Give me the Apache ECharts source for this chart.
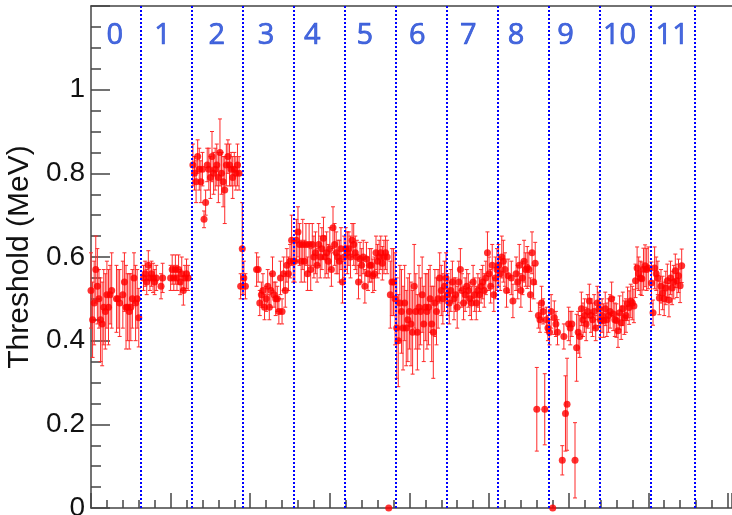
<!DOCTYPE html>
<html>
<head>
<meta charset="utf-8">
<title>Threshold per channel</title>
<script src="https://cdn.jsdelivr.net/npm/echarts@6/dist/echarts.min.js"></script>
<style>
  html, body { margin: 0; padding: 0; background: #fff; }
  #chart { width: 732px; height: 515px; }
</style>
</head>
<body>
<div id="chart"></div>
<script>
var channels = [
  0,1,2,3,4,5,6,7,8,9,10,11,12,13,16,17,18,20,21,22,23,24,25,26,27,28,29,30,
  33,34,35,36,37,38,39,40,41,44,45,50,51,52,53,54,55,56,57,58,59,60,61,
  64,65,66,67,68,69,70,71,72,73,74,75,76,77,78,79,80,81,82,83,84,85,86,87,88,89,90,91,92,93,
  94,95,96,97,
  104,105,106,107,108,109,110,111,112,113,114,115,116,117,118,119,120,121,122,123,124,125,126,127,
  128,129,130,131,132,133,134,135,136,137,138,139,140,141,142,143,144,145,146,147,148,149,150,151,152,153,154,155,156,157,158,159,
  160,161,162,163,164,165,166,167,168,169,170,171,172,173,174,175,176,177,178,179,180,181,182,183,184,185,186,187,188,189,
  190,191,192,193,194,195,196,197,198,199,200,201,202,203,204,205,206,207,208,209,210,211,212,213,214,215,216,217,218,219,220,221,222,223,
  224,225,226,227,228,229,230,231,232,233,234,235,236,237,238,239,240,241,242,243,244,245,246,247,248,249,250,251,252,253,254,255,
  256,257,258,259,260,261,262,264,265,267,268,269,270,271,272,273,274,275,276,277,278,279,280,281,282,283,284,285,286,287,
  288,289,290,291,292,293,296,297,298,299,300,301,302,304,305,306,307,308,309,310,311,312,313,314,315,316,317,318,
  319,320,321,322,323,324,325,326,327,328,329,330,331,332,333,334,335,336,337,338,339,340,341,342,343,344,345,346,347,348,349,350,
  352,353,354,355,356,357,358,359,360,361,362,363,364,365,366,367,368,369,370,371
];
var thresholds = [
  .52,.45,.49,.57,.53,.50,.45,.44,.48,.47,.51,.48,.51,.52,.50,.50,.49,.51,.54,.48,.48,.47,.48,.50,.55,.49,.50,.455,
  .55,.56,.54,.58,.55,.56,.55,.54,.55,.53,.55,.55,.57,.55,.57,.55,.57,.54,.56,.52,.55,.56,.55,
  .82,.80,.78,.84,.81,.78,.81,.69,.73,.82,.81,.79,.84,.80,.81,.82,.79,.85,.80,.78,.76,.82,.84,.82,.81,.79,.81,.80,.82,.80,
  .53,.62,.55,.53,
  .57,.57,.49,.51,.52,.48,.50,.53,.48,.52,.56,.51,.50,.50,.47,.55,.47,.56,.52,.58,.56,.59,.64,.59,
  .59,.64,.66,.63,.59,.63,.59,.63,.56,.63,.57,.63,.60,.61,.58,.63,.60,.62,.645,.60,.61,.59,.62,.57,.67,.63,.61,.60,.59,.62,.54,.60,
  .62,.61,.62,.60,.64,.63,.61,.60,.54,.595,.58,.60,.53,.595,.56,.58,.58,.555,.56,.61,.59,.60,.61,.585,.60,.61,.60,0,.51,.54,
  .54,.50,.43,.40,.49,.47,.43,.49,.43,.45,.47,.44,.42,.53,.47,.42,.48,.47,.51,.44,.48,.47,.48,.50,.44,.42,.49,.47,.50,.55,.52,.50,.53,.55,
  .51,.49,.52,.54,.50,.51,.48,.54,.57,.52,.49,.51,.53,.52,.50,.49,.54,.51,.49,.52,.51,.53,.54,.52,.55,.61,.56,.53,.58,.51,.55,.57,
  .58,.56,.60,.59,.57,.52,.555,.55,.495,.56,.54,.58,.52,.55,.59,.57,.575,.57,.51,.61,.54,.585,.236,.46,.45,.49,.47,.236,.45,.43,
  .42,.47,0,.455,.44,.42,.114,.41,.226,.248,.44,.43,.44,.114,.383,.42,.41,.476,.45,.46,.44,.47,.495,.46,.45,.47,.43,.49,
  .476,.448,.46,.448,.476,.45,.46,.47,.50,.464,.45,.448,.424,.467,.443,.476,.455,.46,.488,.479,.495,.49,.483,.543,.574,.56,.55,.548,.571,.579,.57,.574,
  .538,.467,.574,.56,.55,.502,.53,.514,.50,.526,.543,.497,.55,.526,.54,.567,.543,.555,.531,.579
];
var errors = [
  .09,.09,.10,.08,.09,.07,.10,.10,.09,.09,.08,.09,.07,.09,.08,.07,.08,.08,.07,.10,.08,.09,.08,.07,.06,.09,.07,.07,
  .03,.03,.03,.035,.03,.03,.035,.03,.03,.03,.035,.03,.035,.03,.035,.03,.035,.03,.04,.035,.03,.035,.03,
  .05,.04,.05,.04,.05,.05,.04,.02,.03,.04,.05,.05,.06,.05,.05,.05,.06,.08,.05,.06,.08,.05,.04,.05,.04,.05,.04,.04,.05,.04,
  .03,.11,.04,.03,
  .04,.03,.03,.03,.04,.03,.03,.04,.03,.04,.04,.03,.04,.03,.03,.04,.03,.04,.04,.04,.04,.04,.06,.05,
  .05,.05,.06,.05,.05,.06,.05,.05,.04,.05,.05,.05,.05,.05,.04,.05,.05,.05,.05,.05,.05,.04,.05,.04,.05,.05,.05,.04,.05,.05,.05,.05,
  .05,.05,.04,.05,.04,.05,.04,.04,.04,.04,.04,.04,.04,.04,.04,.04,.04,.04,.04,.04,.04,.04,.04,.04,.04,.04,.04,0,.08,.08,
  .08,.11,.12,.11,.09,.10,.10,.09,.09,.10,.09,.10,.10,.10,.09,.09,.10,.08,.09,.09,.08,.09,.09,.08,.09,.11,.08,.08,.07,.06,.06,.06,.06,.06,
  .05,.05,.05,.05,.05,.04,.05,.05,.05,.04,.04,.04,.04,.04,.04,.04,.04,.04,.04,.04,.04,.04,.04,.04,.04,.05,.04,.04,.05,.04,.05,.05,
  .05,.04,.05,.05,.04,.04,.04,.04,.04,.04,.04,.05,.04,.04,.05,.04,.05,.04,.04,.05,.04,.05,.10,.03,.03,.04,.03,.085,.03,.03,
  .03,.04,0,.04,.03,.03,.035,.03,.09,.11,.04,.04,.03,.09,.08,.05,.05,.04,.04,.04,.04,.04,.04,.04,.04,.04,.03,.04,
  .04,.04,.04,.04,.04,.04,.04,.04,.04,.04,.04,.04,.04,.04,.04,.04,.04,.04,.04,.04,.04,.04,.04,.04,.05,.04,.04,.04,.05,.05,.05,.05,
  .05,.03,.05,.04,.04,.04,.04,.04,.04,.04,.04,.04,.04,.04,.04,.04,.04,.04,.04,.04
];

// module boundaries and labels
var moduleEdges = [31.5, 63.5, 95.5, 127.5, 159.5, 191.5, 223.5, 255.5, 287.5, 319.5, 351.5, 379.5];
var moduleNames = ['0', '1', '2', '3', '4', '5', '6', '7', '8', '9', '10', '11'];
var moduleLabelX = [15, 45, 79, 110, 139, 172, 205, 237, 267, 298, 332, 365];
var moduleLabelY = 1.13;

var xMax = 402.6;

var points = channels.map(function (c, i) {
  return [c, thresholds[i], errors[i]];
});
var labelPoints = moduleNames.map(function (n, i) {
  return [moduleLabelX[i], moduleLabelY, n];
});

function renderErrorBar(params, api) {
  var x = api.value(0);
  var y = api.value(1);
  var e = api.value(2);
  if (!e) {
    return;
  }
  var hi = api.coord([x, y + e]);
  var lo = api.coord([x, y - e]);
  var cap = 2;
  var style = { stroke: '#ff2a2a', lineWidth: 1 };
  return {
    type: 'group',
    children: [
      { type: 'line', shape: { x1: hi[0], y1: hi[1], x2: lo[0], y2: lo[1] }, style: style },
      { type: 'line', shape: { x1: hi[0] - cap, y1: hi[1], x2: hi[0] + cap, y2: hi[1] }, style: style },
      { type: 'line', shape: { x1: lo[0] - cap, y1: lo[1], x2: lo[0] + cap, y2: lo[1] }, style: style }
    ]
  };
}

var chart = echarts.init(document.getElementById('chart'));
var frameColor = '#444';

chart.setOption({
  animation: false,
  backgroundColor: '#fff',
  grid: {
    left: 91,
    top: 6,
    bottom: 7,
    right: 0,
    outerBoundsMode: 'none',
    containLabel: false
  },
  xAxis: [
    {
      type: 'value',
      position: 'bottom',
      min: 0,
      max: xMax,
      interval: 50,
      axisLine: { show: true, onZero: false, lineStyle: { color: frameColor, width: 1.5 } },
      axisTick: { show: true, inside: true, length: 15, lineStyle: { color: frameColor, width: 1.5 } },
      minorTick: { show: true, splitNumber: 5, length: 8, lineStyle: { color: frameColor, width: 1.5 } },
      axisLabel: { show: false },
      splitLine: { show: false }
    },
    {
      type: 'value',
      position: 'top',
      min: 0,
      max: xMax,
      axisLine: { show: true, onZero: false, lineStyle: { color: frameColor, width: 1.5 } },
      axisTick: { show: false },
      axisLabel: { show: false },
      splitLine: { show: false }
    }
  ],
  yAxis: {
    type: 'value',
    min: 0,
    max: 1.2,
    interval: 0.2,
    name: 'Threshold (MeV)',
    nameLocation: 'middle',
    nameGap: 50,
    nameTextStyle: { fontSize: 30, color: '#111', fontFamily: 'Liberation Sans' },
    axisLine: { show: true, onZero: false, lineStyle: { color: frameColor, width: 1.5 } },
    axisTick: { show: true, inside: true, length: 19, lineStyle: { color: frameColor, width: 1.5 } },
    minorTick: { show: true, splitNumber: 4, length: 10, lineStyle: { color: frameColor, width: 1.5 } },
    axisLabel: {
      fontSize: 28,
      color: '#111',
      fontFamily: 'Liberation Sans',
      margin: 6,
      showMaxLabel: false
    },
    splitLine: { show: false }
  },
  series: [
    {
      name: 'errors',
      type: 'custom',
      renderItem: renderErrorBar,
      encode: { x: 0, y: 1 },
      data: points,
      z: 2
    },
    {
      name: 'threshold',
      type: 'scatter',
      symbol: 'circle',
      symbolSize: 7,
      itemStyle: { color: '#ff0000' },
      clip: false,
      data: points,
      z: 3,
      markLine: {
        silent: true,
        symbol: ['none', 'none'],
        label: { show: false },
        lineStyle: { color: '#0000ff', type: [2, 2], width: 2 },
        data: moduleEdges.map(function (x) { return { xAxis: x }; })
      }
    },
    {
      name: 'modules',
      type: 'scatter',
      symbolSize: 1,
      itemStyle: { color: 'rgba(0,0,0,0)' },
      silent: true,
      data: labelPoints,
      label: {
        show: true,
        position: 'inside',
        formatter: function (p) { return p.value[2]; },
        fontSize: 29,
        color: '#1a44d4',
        fontFamily: 'Open Sans',
        textBorderColor: '#1a44d4',
        textBorderWidth: 0.7
      },
      z: 4
    }
  ]
});
</script>
</body>
</html>
